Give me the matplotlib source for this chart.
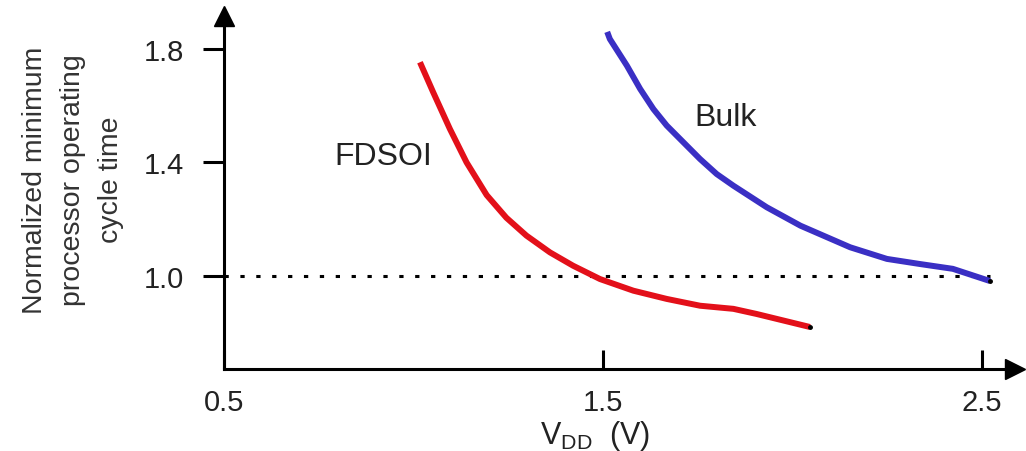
import matplotlib.pyplot as plt

plt.rcParams['font.family'] = ['Liberation Sans', 'DejaVu Sans']

# FDSOI curve
fdsoi_vdd = [1.017, 1.052, 1.096, 1.140, 1.193, 1.245, 1.298, 1.360, 1.421,
             1.492, 1.580, 1.668, 1.756, 1.844, 1.905, 2.046]
fdsoi_time = [1.753, 1.647, 1.518, 1.400, 1.285, 1.205, 1.142, 1.083, 1.036,
              0.989, 0.948, 0.919, 0.895, 0.884, 0.866, 0.820]

# Bulk curve
bulk_vdd = [1.511, 1.518, 1.563, 1.598, 1.633, 1.668, 1.712, 1.756, 1.800,
            1.844, 1.932, 2.021, 2.152, 2.249, 2.336, 2.423, 2.521]
bulk_time = [1.860, 1.835, 1.741, 1.659, 1.588, 1.530, 1.471, 1.412, 1.359,
             1.318, 1.242, 1.177, 1.101, 1.060, 1.042, 1.025, 0.982]

x_ticks = [0.5, 1.5, 2.5]
y_ticks = [1.0, 1.4, 1.8]
ref_level = 1.0

fig = plt.figure(figsize=(10.26, 4.52), dpi=100)
W, H = 1026, 452
ax = fig.add_axes([224 / W, 1 - 370 / H, (1015 - 224) / W, (370 - 17) / H])

ax.set_xlim(0.5, 2.587)
ax.set_ylim(0.672, 1.916)

# reference line at 1.0
ax.plot([0.5, 2.52], [ref_level, ref_level], color='black', lw=2.2,
        linestyle=(0, (1.4, 3.8)))

ax.plot(fdsoi_vdd, fdsoi_time, color='#e3101a', lw=4.3, solid_capstyle='butt',
        solid_joinstyle='round')
ax.plot(bulk_vdd, bulk_time, color='#3a2fc4', lw=4.3, solid_capstyle='butt',
        solid_joinstyle='round')
ax.plot(fdsoi_vdd[-1], fdsoi_time[-1], 'o', color='black', ms=2.5)
ax.plot(bulk_vdd[-1], bulk_time[-1], 'o', color='black', ms=2.5)

ax.text(1.049, 1.423, 'FDSOI', fontsize=23, ha='right', va='center', color='#222222')
ax.text(1.74, 1.56, 'Bulk', fontsize=23, ha='left', va='center', color='#222222')

# axes with arrows
for s in ['top', 'right']:
    ax.spines[s].set_visible(False)
for s in ['left', 'bottom']:
    ax.spines[s].set_linewidth(2.2)
ax.plot(1, 0, '>', color='black', ms=15, transform=ax.transAxes, clip_on=False)
ax.plot(0, 1, '^', color='black', ms=15, transform=ax.transAxes, clip_on=False)

ax.set_xticks(x_ticks)
ax.set_xticklabels(['0.5', '1.5', '2.5'])
ax.set_yticks(y_ticks)
ax.set_yticklabels(['1.0', '1.4', '1.8'])
ax.tick_params(axis='x', direction='in', length=14, width=2.2, pad=14,
               labelsize=21, labelcolor='#222222')
ax.tick_params(axis='y', direction='out', length=15, width=2.2, pad=14,
               labelsize=21, labelcolor='#222222')

fig.text(595 / W, 1 - 436 / H, r'V$_{\mathregular{DD}}$  (V)', fontsize=22,
         ha='center', va='center', color='#222222')
fig.text(73 / W, 1 - 180 / H, 'Normalized minimum\nprocessor operating\ncycle time',
         fontsize=20.5, rotation=90, ha='center', va='center', multialignment='center',
         linespacing=1.6, color='#333333')

fig.savefig('out.png', dpi=100)
